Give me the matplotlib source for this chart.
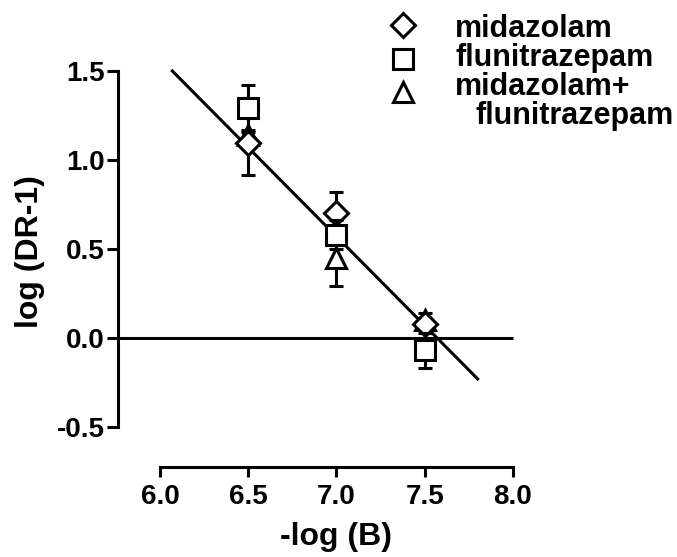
import matplotlib
matplotlib.use("Agg")
import matplotlib.pyplot as plt
from matplotlib.lines import Line2D
import numpy as np

plt.rcParams['font.family'] = ['Liberation Sans', 'DejaVu Sans']
plt.rcParams['font.weight'] = 'bold'

# Data
log_b = [6.5, 7.0, 7.5]
midazolam = [1.095, 0.70, 0.08]
midazolam_err = [0.18, 0.12, 0.03]
flunitrazepam = [1.29, 0.58, -0.07]
flunitrazepam_err = [0.13, 0.08, 0.10]
combo = [1.14, 0.45, 0.10]
combo_err = [0.03, 0.16, 0.04]
fit_x = [6.07, 7.80]
fit_slope = -1.0
fit_intercept = 7.57
xticks = [6.0, 6.5, 7.0, 7.5, 8.0]
yticks = [-0.5, 0.0, 0.5, 1.0, 1.5]
legend_lines = ["midazolam", "flunitrazepam", "midazolam+", "flunitrazepam"]

W, H = 677, 557
fig = plt.figure(figsize=(W / 100, H / 100), dpi=100)
left_px, right_px, top_px, bot_px = 118, 530.6, 53.2, 467
ax = fig.add_axes([left_px / W, (H - bot_px) / H, (right_px - left_px) / W, (bot_px - top_px) / H])
ax.set_xlim(5.762, 8.1)
ax.set_ylim(-0.725, 1.6)

lw = 2.2
ax.spines['top'].set_visible(False)
ax.spines['right'].set_visible(False)
ax.spines['left'].set_bounds(-0.5, 1.5)
ax.spines['bottom'].set_bounds(6.0, 8.0)
for s in ('left', 'bottom'):
    ax.spines[s].set_linewidth(lw)
ax.set_xticks(xticks)
ax.set_yticks(yticks)
ax.set_xticklabels([f"{v:.1f}" for v in xticks])
ax.set_yticklabels([f"{v:.1f}" for v in yticks])
ax.tick_params(axis='x', length=7, width=lw, labelsize=20, pad=5)
ax.tick_params(axis='y', length=8, width=lw, labelsize=20, pad=1.5)
for t in ax.get_xticklabels() + ax.get_yticklabels():
    t.set_fontweight('bold')

# zero line
ax.hlines(0, 5.762, 8.0, color='black', lw=lw, zorder=2)

# fit line
fx = np.array(fit_x)
ax.plot(fx, fit_slope * (fx - fit_intercept), color='black', lw=lw, zorder=3)

common = dict(color='black', mfc='white', mec='black', mew=lw, elinewidth=lw,
              capsize=5, capthick=lw, ls='none')
ax.errorbar(log_b, combo, yerr=combo_err, marker='^', ms=15, zorder=4, **common)
ax.errorbar(log_b, midazolam, yerr=midazolam_err, marker='D', ms=12, zorder=5, **common)
ax.errorbar(log_b, flunitrazepam, yerr=flunitrazepam_err, marker='s', ms=14, zorder=6, **common)

# axis labels
fig.text(336 / W, 1 - 537 / H, "-log (B)", ha='center', va='center', fontsize=23, fontweight='bold')
fig.text(30 / W, 1 - 252 / H, "log (DR-1)", ha='center', va='center', rotation=90, fontsize=23, fontweight='bold')

# legend (manual)
mk = ['D', 's', '^']
msz = [12, 14, 14]
mk_y = [25, 59, 92]
for m, s, y in zip(mk, msz, mk_y):
    fig.add_artist(Line2D([403 / W], [1 - y / H], marker=m, ms=s, mfc='white', mec='black',
                          mew=lw, ls='none', transform=fig.transFigure))
text_x = [455, 455, 455, 476]
text_base = [37, 66, 95, 124]
for x, y, lab in zip(text_x, text_base, legend_lines):
    fig.text(x / W, 1 - y / H, lab, ha='left', va='baseline', fontsize=22, fontweight='bold')

fig.savefig("out.png", dpi=100)
